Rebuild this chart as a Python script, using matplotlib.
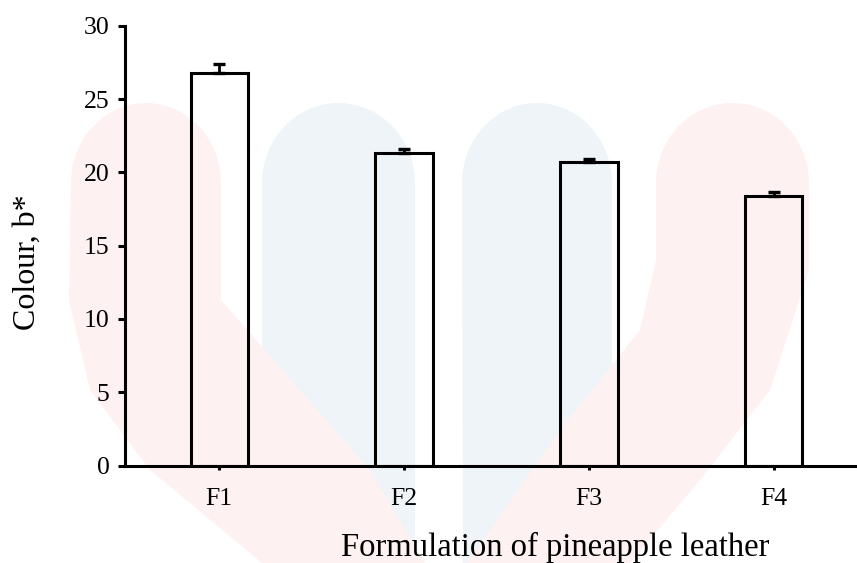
import matplotlib.pyplot as plt
from matplotlib.patches import Polygon
import numpy as np

# values
formulations = ["F1", "F2", "F3", "F4"]
b_star = [26.75, 21.35, 20.7, 18.4]
b_err = [0.65, 0.25, 0.2, 0.25]

plt.rcParams['font.family'] = ['Liberation Serif', 'DejaVu Serif']

W, H = 857, 563
fig = plt.figure(figsize=(W / 100, H / 100), dpi=100)


def lobe(x0, x1, right_side, left_side, top=103):
    """faint watermark lobe (pixel coords): rounded top, then custom sides"""
    cx = (x0 + x1) / 2
    rx = (x1 - x0) / 2
    ry = 80
    t = np.linspace(np.pi, 0, 40)
    arc = [(cx + rx * np.cos(a), top + ry - ry * np.sin(a)) for a in t]
    pts = arc + right_side + left_side
    return [(x / W, 1 - y / H) for x, y in pts]


pink = (0.994, 0.945, 0.945)
blue = (0.935, 0.957, 0.972)
shapes = [
    (lobe(262, 415, [(415, 563)], [(393, 563), (330, 470), (262, 380)]), blue),
    (lobe(462, 612, [(612, 420), (540, 500), (485, 563)], [(463, 563)]), blue),
    (lobe(71, 221, [(221, 300), (300, 390), (370, 470), (425, 563)],
          [(262, 563), (150, 470), (90, 390), (69, 300)]), pink),
    (lobe(656, 809, [(809, 270), (770, 390), (700, 480), (630, 563)],
          [(467, 563), (560, 430), (640, 330), (656, 260)]), pink),
]
for pts, col in shapes:
    fig.patches.append(Polygon(pts, closed=True, transform=fig.transFigure,
                               facecolor=col, edgecolor='none', zorder=-1))

ax = fig.add_axes([125 / W, 1 - 465.5 / H, (855 - 125) / W, (465.5 - 25.7) / H])
ax.set_facecolor('none')
ax.set_zorder(2)

x = np.arange(len(formulations))
ax.bar(x, b_star, width=0.31, facecolor='none', edgecolor='black', linewidth=2.2)
ax.errorbar(x, b_star, yerr=[[0] * len(b_err), b_err], fmt='none', ecolor='black',
            elinewidth=2, capsize=4.5, capthick=2.4)

ax.set_xlim(-0.51, 3.44)
ax.set_ylim(0, 30)
ax.set_yticks([0, 5, 10, 15, 20, 25, 30])
ax.set_xticks(x)
ax.set_xticklabels(formulations)

ax.spines['top'].set_visible(False)
ax.spines['right'].set_visible(False)
ax.spines['left'].set_linewidth(2.2)
ax.spines['bottom'].set_linewidth(2.2)
ax.tick_params(axis='y', direction='out', length=5, width=2.2, labelsize=18.5, pad=6)
ax.tick_params(axis='x', direction='out', length=3, width=2.2, labelsize=18.5, pad=13)

fig.text(555 / W, 1 - 547 / H, "Formulation of pineapple leather",
         ha='center', va='center', fontsize=23.5)
fig.text(27 / W, 1 - 262 / H, "Colour, b*", rotation=90,
         ha='center', va='center', fontsize=23)

fig.savefig("out.png", dpi=100)
